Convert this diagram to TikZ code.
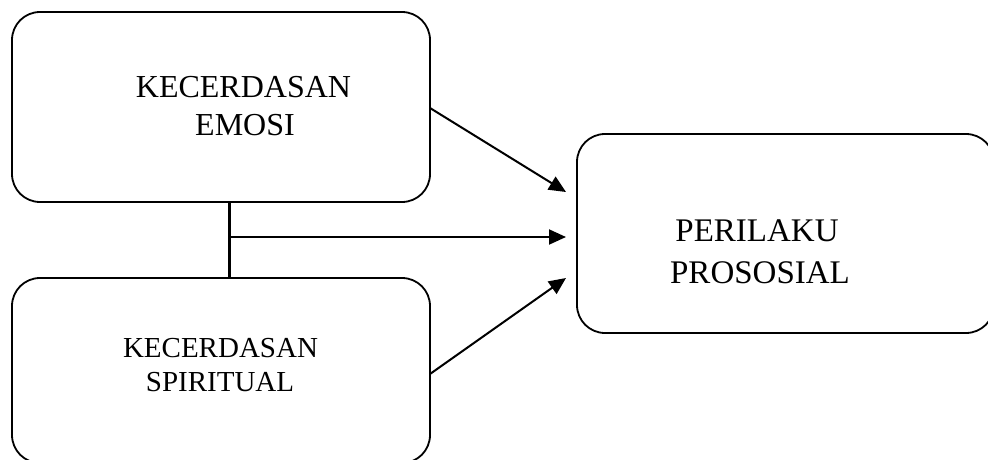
\documentclass[tikz,border=0pt]{standalone}
\usepackage{fontspec}
\setmainfont{Liberation Serif}
\usetikzlibrary{arrows.meta}
\tikzset{
  box/.style={draw=black, line width=1.8pt, rounded corners=28pt, rectangle, anchor=north west, inner sep=0pt, outer sep=0pt},
  lbl/.style={anchor=base, inner sep=0pt, outer sep=0pt},
  conn/.style={line width=2pt, -{Triangle[length=17pt,width=15pt]}},
  link/.style={line width=3pt}
}
\begin{document}
\begin{tikzpicture}[x=1pt,y=-1pt]
\useasboundingbox (0,0) rectangle (988,460);
\node[box, minimum width=418pt, minimum height=190pt] (ke) at (12,12) {};
\node[box, minimum width=418pt, minimum height=185pt] (ks) at (12,278) {};
\node[box, minimum width=417pt, minimum height=199pt] (pp) at (577,134) {};
% labels
\node[lbl, font=\fontsize{32}{38}\selectfont] (ke1) at (243.5,97.7) {KECERDASAN};
\node[lbl, font=\fontsize{32}{38}\selectfont] (ke2) at (245,135) {EMOSI};
\node[lbl, font=\fontsize{29}{34}\selectfont] (ks1) at (220.5,357.3) {KECERDASAN};
\node[lbl, font=\fontsize{29}{34}\selectfont] (ks2) at (220,391.7) {SPIRITUAL};
\node[lbl, font=\fontsize{33}{38}\selectfont] (pp1) at (757,241) {PERILAKU};
\node[lbl, font=\fontsize{33}{38}\selectfont] (pp2) at (760,283) {PROSOSIAL};
% connectors
\coordinate (a1) at (430,108);
\coordinate (t1) at (566,192);
\coordinate (a3) at (430,374);
\coordinate (t3) at (566,278);
\coordinate (j) at (229,237);
\coordinate (t2) at (566,237);
\draw[link] (ke.south west -| j) -- (ks.north west -| j);
\draw[conn] (a1) -- (t1);
\draw[conn] (j) -- (t2);
\draw[conn] (a3) -- (t3);
\end{tikzpicture}
\end{document}
